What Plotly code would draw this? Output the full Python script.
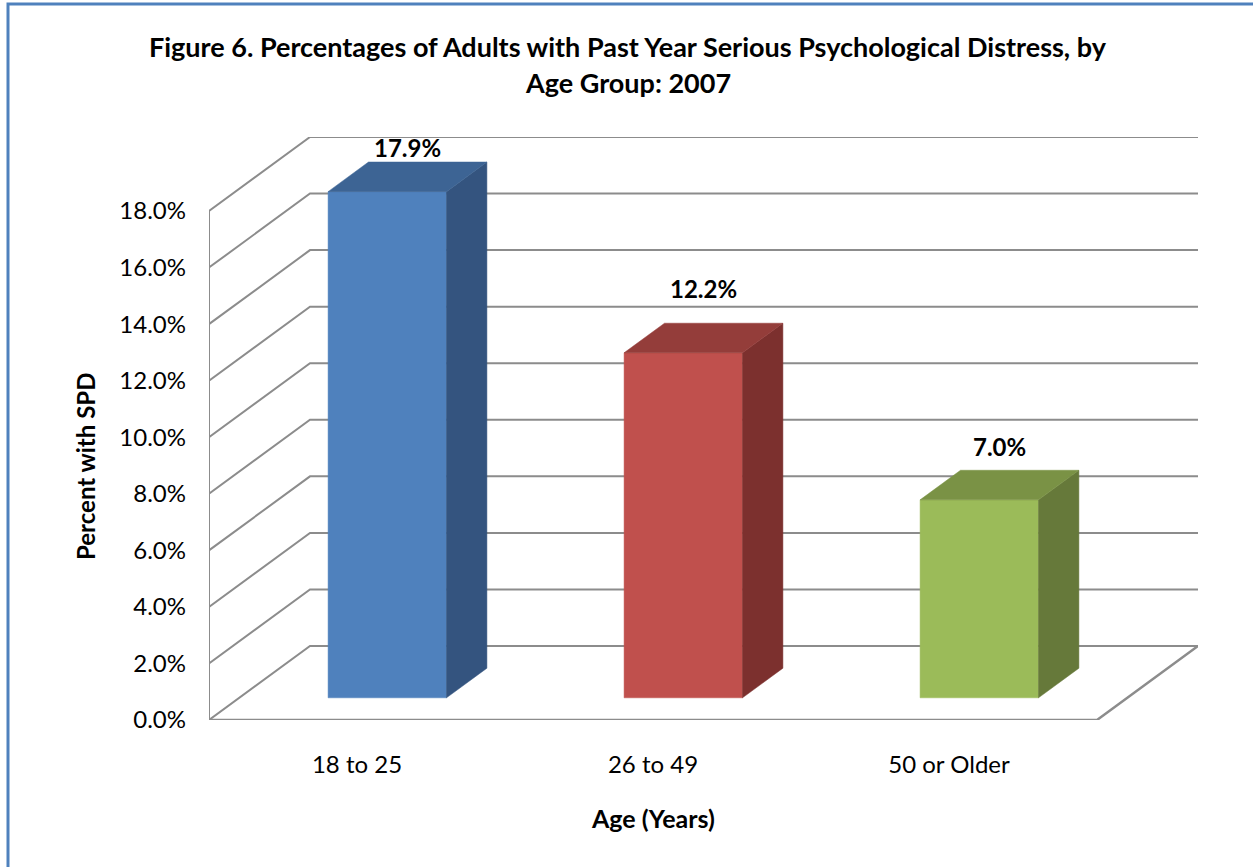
import plotly.graph_objects as go

# ---- data ----
categories = ["18 to 25", "26 to 49", "50 or Older"]
values = [17.9, 12.2, 7.0]
value_labels = ["17.9%", "12.2%", "7.0%"]
y_ticks = [0, 2, 4, 6, 8, 10, 12, 14, 16, 18]
y_tick_labels = ["0.0%", "2.0%", "4.0%", "6.0%", "8.0%", "10.0%", "12.0%", "14.0%", "16.0%", "18.0%"]
title_lines = ["Figure 6. Percentages of Adults with Past Year Serious Psychological Distress, by",
               "Age Group: 2007"]
y_title = "Percent with SPD"
x_title = "Age (Years)"

# ---- styling ----
front_cols = ["#4F81BD", "#C0504D", "#9BBB59"]
top_cols = ["#3D6494", "#943D3A", "#7A9245"]
side_cols = ["#34547F", "#7C302E", "#66793A"]
grid_col = "#8C8C8C"
FONT = "Lato"

W, H = 1253, 867
L_PX, B_PX = 209, 720            # front-left-bottom corner of the plot (pixels)
CAT_PX = 296.0                   # pixels per category on the front plane
UNIT_PX = (720 - 211) / 18.0     # pixels per percentage point
DX_PX, DY_PX = 101.0, 74.0       # depth offset in pixels
K = DX_PX / CAT_PX               # depth shift in x (category units)
LZ = DY_PX / UNIT_PX             # depth shift in y (percent units)
YMAX = max(y_ticks)
NCAT = len(categories)

x_range = [0, NCAT + K]
y_range = [0, YMAX + LZ]
plot_w = (NCAT + K) * CAT_PX
plot_h = (YMAX + LZ) * UNIT_PX
m_l = L_PX
m_r = W - L_PX - plot_w
m_b = H - B_PX
m_t = B_PX - plot_h


def P(u, v, d):
    """project (category pos, value, depth) into 2-D axis coords"""
    return u + d * K, v + d * LZ


def px2paper(px, py):
    return (px - L_PX) / plot_w, (B_PX - py) / plot_h


fig = go.Figure()

# ---- walls / floor grid ----
gx, gy = [], []
for v in y_ticks:
    for (u, d) in [(0, 0), (0, 1), (NCAT, 1)]:
        x, y = P(u, v, d)
        gx.append(x); gy.append(y)
    gx.append(None); gy.append(None)
# front-left vertical edge
for v in [0, YMAX]:
    x, y = P(0, v, 0); gx.append(x); gy.append(y)
gx.append(None); gy.append(None)
fig.add_trace(go.Scatter(x=gx, y=gy, mode="lines", line=dict(color=grid_col, width=2),
                         hoverinfo="skip", showlegend=False))
# floor front and right edges
fx, fy = [], []
for (u, d) in [(0, 0), (NCAT, 0), (NCAT, 1)]:
    x, y = P(u, 0, d); fx.append(x); fy.append(y)
fig.add_trace(go.Scatter(x=fx, y=fy, mode="lines", line=dict(color=grid_col, width=2.5),
                         hoverinfo="skip", showlegend=False))

# ---- 3-D bars ----
BU0, BU1 = 0.30, 0.70   # bar extent inside category
BD0, BD1 = 0.30, 0.70   # bar depth extent


def face(pts, col):
    xs, ys = [], []
    for (u, v, d) in pts:
        x, y = P(u, v, d); xs.append(x); ys.append(y)
    xs.append(xs[0]); ys.append(ys[0])
    fig.add_trace(go.Scatter(x=xs, y=ys, mode="lines", fill="toself", fillcolor=col,
                             line=dict(color=col, width=0.5), hoverinfo="skip",
                             showlegend=False))


for i, val in enumerate(values):
    u0, u1 = i + BU0, i + BU1
    face([(u0, 0, BD0), (u1, 0, BD0), (u1, val, BD0), (u0, val, BD0)], front_cols[i])
    face([(u1, 0, BD0), (u1, 0, BD1), (u1, val, BD1), (u1, val, BD0)], side_cols[i])
    face([(u0, val, BD0), (u1, val, BD0), (u1, val, BD1), (u0, val, BD1)], top_cols[i])

# ---- value labels ----
label_lift = [15, 35, 24]
for i, val in enumerate(values):
    x, y = P(i + 0.5, val, BD1)
    xc, _ = P(i + 0.5, val, 0.5)
    fig.add_annotation(x=xc, y=y, xref="x", yref="y", text="<b>%s</b>" % value_labels[i],
                       showarrow=False, yanchor="middle", yshift=label_lift[i],
                       font=dict(family=FONT, size=24, color="#000000"))

# ---- titles ----
for line, py in zip(title_lines, [47, 83]):
    px_, py_ = px2paper(628, py)
    fig.add_annotation(x=px_, y=py_, xref="paper", yref="paper", text="<b>%s</b>" % line,
                       showarrow=False, xanchor="center", yanchor="middle",
                       font=dict(family=FONT, size=27, color="#000000"))
ax_, ay_ = px2paper(85, 467)
fig.add_annotation(x=ax_, y=ay_, xref="paper", yref="paper", text="<b>%s</b>" % y_title,
                   showarrow=False, textangle=-90, xanchor="center", yanchor="middle",
                   font=dict(family=FONT, size=24, color="#000000"))
bx_, by_ = px2paper(653, 818)
fig.add_annotation(x=bx_, y=by_, xref="paper", yref="paper", text="<b>%s</b>" % x_title,
                   showarrow=False, xanchor="center", yanchor="middle",
                   font=dict(family=FONT, size=25, color="#000000"))

# ---- outer border ----
b0x, b0y = px2paper(8, 4)
b1x, b1y = px2paper(W + 40, H + 40)
fig.add_shape(type="rect", xref="paper", yref="paper", x0=b0x, y0=b0y, x1=b1x, y1=b1y,
              line=dict(color="#4F81BD", width=3), layer="below")

fig.update_layout(
    width=W, height=H, autosize=False,
    margin=dict(l=m_l, r=m_r, t=m_t, b=m_b, pad=0),
    paper_bgcolor="white", plot_bgcolor="white", showlegend=False,
    xaxis=dict(range=x_range, showgrid=False, zeroline=False, showline=False,
               tickmode="array", tickvals=[i + 0.5 for i in range(NCAT)], ticktext=categories,
               ticks="", ticklabelstandoff=28, fixedrange=True,
               tickfont=dict(family=FONT, size=24, color="#000000")),
    yaxis=dict(range=y_range, showgrid=False, zeroline=False, showline=False,
               tickmode="array", tickvals=y_ticks, ticktext=y_tick_labels,
               ticks="", ticklabelstandoff=22, fixedrange=True,
               tickfont=dict(family=FONT, size=24, color="#000000")),
)

fig.write_html("out.html")
